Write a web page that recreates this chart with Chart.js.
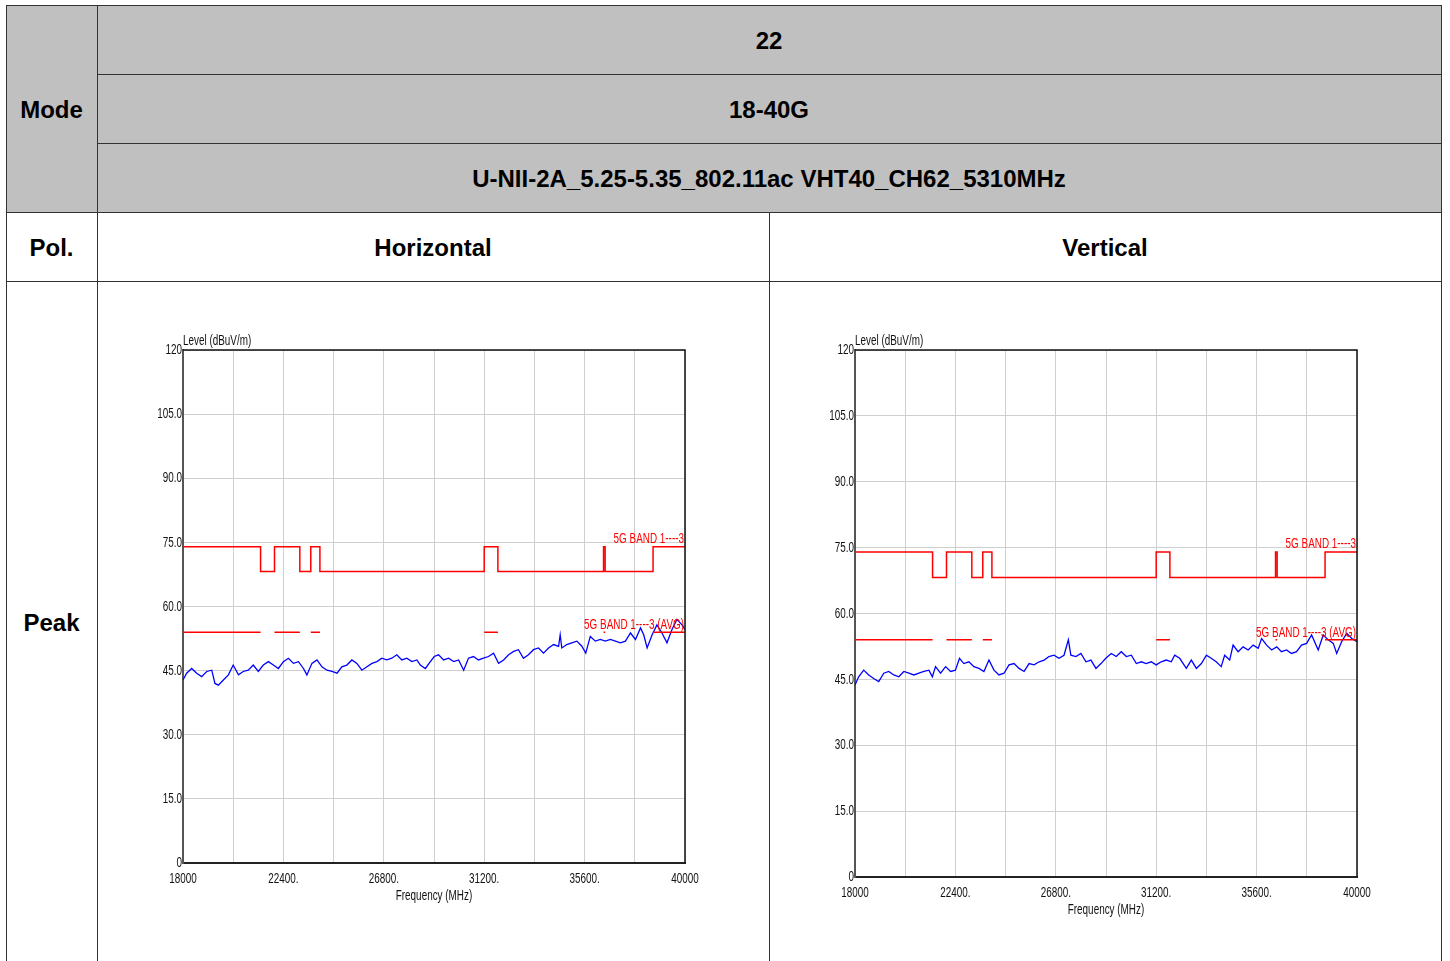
<!DOCTYPE html>
<html>
<head>
<meta charset="utf-8">
<script src="https://cdn.jsdelivr.net/npm/chart.js@4.4.0/dist/chart.umd.min.js"></script>
<style>
  body { margin: 0; background: #fff; overflow: hidden; width: 1450px; height: 961px; position: relative; }
  .cell { position: absolute; display: flex; align-items: center; justify-content: center; box-sizing: border-box;
          padding-top: 2px; font: bold 24px "Liberation Sans", Arial, sans-serif; color: #000; }
  .grey { background: #c0c0c0; }
  .hl { position: absolute; height: 1px; background: #333; }
  .vl { position: absolute; width: 1px; background: #333; }
  canvas { position: absolute; }
</style>
</head>
<body>
<div class="cell grey" style="left:6px;top:5px;width:91px;height:207px;">Mode</div>
<div class="cell grey" style="left:97px;top:5px;width:1344px;height:69px;">22</div>
<div class="cell grey" style="left:97px;top:74px;width:1344px;height:69px;">18-40G</div>
<div class="cell grey" style="left:97px;top:143px;width:1344px;height:69px;">U-NII-2A_5.25-5.35_802.11ac VHT40_CH62_5310MHz</div>
<div class="cell" style="left:6px;top:212px;width:91px;height:69px;">Pol.</div>
<div class="cell" style="left:97px;top:212px;width:672px;height:69px;">Horizontal</div>
<div class="cell" style="left:769px;top:212px;width:672px;height:69px;">Vertical</div>
<div class="cell" style="left:6px;top:281px;width:91px;height:682px;">Peak</div>

<div class="hl" style="left:6px;top:5px;width:1436px;"></div>
<div class="hl" style="left:97px;top:74px;width:1345px;"></div>
<div class="hl" style="left:97px;top:143px;width:1345px;"></div>
<div class="hl" style="left:6px;top:212px;width:1436px;"></div>
<div class="hl" style="left:6px;top:281px;width:1436px;"></div>
<div class="vl" style="left:6px;top:5px;height:960px;"></div>
<div class="vl" style="left:97px;top:5px;height:960px;"></div>
<div class="vl" style="left:769px;top:212px;height:750px;"></div>
<div class="vl" style="left:1441px;top:5px;height:960px;"></div>

<canvas id="horizontal" width="600" height="600" style="left:130px;top:320px;"></canvas>
<canvas id="vertical" width="600" height="614" style="left:802px;top:320px;"></canvas>

<script>
// tick positions and labels
const xTickValues = [18000, 20200, 22400, 24600, 26800, 29000, 31200, 33400, 35600, 37800, 40000];
const xTickLabels = ["18000", "", "22400.", "", "26800.", "", "31200.", "", "35600.", "", "40000"];
const yTickValues = [0, 15, 30, 45, 60, 75, 90, 105, 120];
const yTickLabels = ["0", "15.0", "30.0", "45.0", "60.0", "75.0", "90.0", "105.0", "120"];

// limit lines (restricted bands get the 74 / 54 limits, the rest 68.2)
const restrictedBands = [[18000, 21400], [22010, 23120], [23600, 24000], [31200, 31800], [36430, 36500], [38600, 40000]];
const peakLimit = 74;
const otherLimit = 68.2;
const avgLimit = 54;

// measured trace, horizontal
const hFreq = [18000,18160,18380,18600,18820,19040,19260,19400,19550,19770,
  19990,20200,20430,20640,20860,21080,21300,21520,21740,21960,
  22180,22400,22620,22840,23060,23280,23430,23650,23870,24090,
  24310,24530,24750,24960,25180,25400,25620,25840,26060,26280,
  26500,26710,26930,27150,27370,27590,27810,28030,28250,28400,
  28620,28840,29010,29200,29420,29640,29860,30080,30300,30510,
  30730,30950,31170,31390,31610,31830,32050,32270,32490,32700,
  32920,33140,33360,33580,33800,34020,34240,34460,34530,34600,
  34820,35040,35260,35480,35650,35850,36070,36290,36510,36730,
  36950,37170,37390,37610,37830,38050,38190,38340,38560,38770,
  38990,39210,39430,39650,39870,40000];
const hLevel = [42.8,44.4,45.5,44.4,43.6,44.8,45.1,42.0,41.6,42.8,
  44.0,46.3,44.0,44.8,45.1,46.3,44.8,46.3,47.1,46.3,
  45.5,47.1,47.9,46.7,47.1,45.5,44.0,46.7,47.5,45.9,
  45.1,44.8,44.4,45.9,46.3,47.5,46.7,45.1,45.9,46.7,
  47.1,47.9,47.5,47.9,48.7,47.5,47.9,47.1,47.5,46.3,
  45.5,47.1,48.3,48.7,47.5,47.9,47.1,47.5,45.1,47.9,
  48.3,47.5,47.9,48.3,49.1,46.7,47.5,48.7,49.5,49.9,
  47.9,48.7,49.9,50.3,49.1,50.3,51.1,50.7,53.4,50.3,
  51.1,51.5,51.9,50.7,49.1,53.0,51.9,52.3,51.9,52.3,
  51.9,51.5,51.9,53.8,52.3,55.0,53.4,50.3,53.4,55.7,
  53.8,51.5,54.6,57.0,55.7,54.6];

// measured trace, vertical
const vFreq = [18000,18160,18380,18600,18820,19040,19260,19480,19700,19920,
  20140,20360,20580,20800,21020,21240,21390,21530,21750,21970,
  22190,22400,22580,22770,22990,23210,23430,23650,23870,24090,
  24310,24530,24750,24970,25190,25410,25630,25850,26070,26290,
  26500,26720,26940,27160,27350,27460,27680,27900,28120,28340,
  28560,28780,28990,29230,29450,29670,29890,30110,30330,30550,
  30760,30980,31200,31420,31640,31860,32010,32230,32520,32740,
  32960,33180,33400,33610,33830,34050,34200,34420,34570,34790,
  35010,35230,35450,35670,35820,36040,36260,36480,36690,36910,
  37130,37350,37570,37790,38010,38300,38520,38740,38960,39110,
  39330,39550,39770,40000];
const vLevel = [43.7,45.6,47.1,46.0,45.2,44.5,46.4,46.8,46.0,45.6,
  46.8,46.4,46.0,46.4,46.8,47.1,45.6,47.9,46.4,47.9,
  46.8,47.1,49.8,48.6,49.0,47.9,47.5,46.8,49.4,47.1,
  46.0,46.4,48.3,48.6,47.5,46.8,48.6,48.3,49.0,49.4,
  50.2,50.5,49.8,50.5,54.0,50.5,50.2,50.9,49.0,49.4,
  47.5,48.6,49.8,50.9,50.2,51.3,50.2,50.5,48.6,49.0,
  48.6,49.0,48.3,49.0,49.4,49.0,50.5,49.8,47.5,49.4,
  47.5,48.6,50.5,49.8,49.0,47.9,50.5,49.4,52.8,51.3,
  52.4,51.7,52.8,52.1,54.3,52.8,51.7,52.4,51.3,51.7,
  50.9,51.3,52.8,53.2,55.1,51.7,55.1,54.0,53.2,50.9,
  53.6,55.5,54.3,53.6];

function peakLimitPoints() {
  const pts = [];
  let prevEnd = null;
  restrictedBands.forEach(([a, b]) => {
    if (prevEnd !== null) {
      pts.push({ x: prevEnd, y: otherLimit }, { x: a, y: otherLimit });
    }
    pts.push({ x: a, y: peakLimit }, { x: b, y: peakLimit });
    prevEnd = b;
  });
  return pts;
}

function avgLimitPoints() {
  const pts = [];
  restrictedBands.forEach(([a, b]) => {
    pts.push({ x: a, y: avgLimit }, { x: b, y: avgLimit }, { x: b, y: null });
  });
  return pts;
}

// narrow text: Arial squeezed sideways, like the analyser's font
function narrowText(ctx, text, x, y, align, baseline) {
  ctx.save();
  ctx.translate(x, y);
  ctx.scale(0.66, 1);
  ctx.textAlign = align;
  ctx.textBaseline = baseline || "alphabetic";
  ctx.fillText(text, 0, 0);
  ctx.restore();
}

const frameAndText = {
  id: "frameAndText",
  afterDraw(chart) {
    const { ctx, chartArea: a, scales } = chart;
    const { x, y } = scales;
    ctx.save();
    ctx.strokeStyle = "#111";
    ctx.lineWidth = 1.5;
    ctx.beginPath();
    ctx.moveTo(a.left, a.top);
    ctx.lineTo(a.right, a.top);
    ctx.lineTo(a.right, a.bottom);
    ctx.stroke();

    ctx.font = '15px "Liberation Sans", Arial, sans-serif';
    ctx.fillStyle = "#111";
    yTickValues.forEach((v, i) => {
      narrowText(ctx, yTickLabels[i], a.left - 1, y.getPixelForValue(v), "right", "middle");
    });
    xTickValues.forEach((v, i) => {
      if (xTickLabels[i]) narrowText(ctx, xTickLabels[i], x.getPixelForValue(v), a.bottom + 8, "center", "top");
    });
    narrowText(ctx, "Level (dBuV/m)", a.left, a.top - 5, "left");
    narrowText(ctx, "Frequency (MHz)", (a.left + a.right) / 2, a.bottom + 37, "center");

    ctx.fillStyle = "#ff0000";
    narrowText(ctx, "5G BAND 1----3", a.right - 1, y.getPixelForValue(peakLimit) - 4, "right");
    narrowText(ctx, "5G BAND 1----3 (AVG)", a.right - 1, y.getPixelForValue(avgLimit) - 3, "right");
    ctx.restore();
  },
};

function makeChart(id, freqs, levels) {
  new Chart(document.getElementById(id), {
    type: "line",
    data: {
      datasets: [
        {
          data: peakLimitPoints(),
          borderColor: "#ff0000",
          borderWidth: 1.5,
          pointRadius: 0,
        },
        {
          data: avgLimitPoints(),
          borderColor: "#ff0000",
          borderWidth: 1.5,
          pointRadius: 0,
          spanGaps: false,
        },
        {
          data: freqs.map((f, i) => ({ x: f, y: levels[i] })),
          borderColor: "#0000ff",
          borderWidth: 1.3,
          pointRadius: 0,
        },
      ],
    },
    options: {
      responsive: false,
      animation: false,
      layout: { padding: { top: 30, right: 45, left: 0, bottom: 0 } },
      plugins: { legend: { display: false }, tooltip: { enabled: false } },
      scales: {
        x: {
          type: "linear",
          min: 18000,
          max: 40000,
          afterBuildTicks(scale) {
            scale.ticks = xTickValues.map((v) => ({ value: v }));
          },
          afterFit(scale) {
            scale.height = 57;
          },
          grid: { color: "#cfcfcf", lineWidth: 1, drawTicks: false },
          border: { color: "#222", width: 2 },
          ticks: { display: false },
        },
        y: {
          min: 0,
          max: 120,
          afterBuildTicks(scale) {
            scale.ticks = yTickValues.map((v) => ({ value: v }));
          },
          afterFit(scale) {
            scale.width = 53;
          },
          grid: { color: "#cfcfcf", lineWidth: 1, drawTicks: false },
          border: { color: "#555", width: 2 },
          ticks: { display: false },
        },
      },
    },
    plugins: [frameAndText],
  });
}

makeChart("horizontal", hFreq, hLevel);
makeChart("vertical", vFreq, vLevel);
</script>
</body>
</html>
